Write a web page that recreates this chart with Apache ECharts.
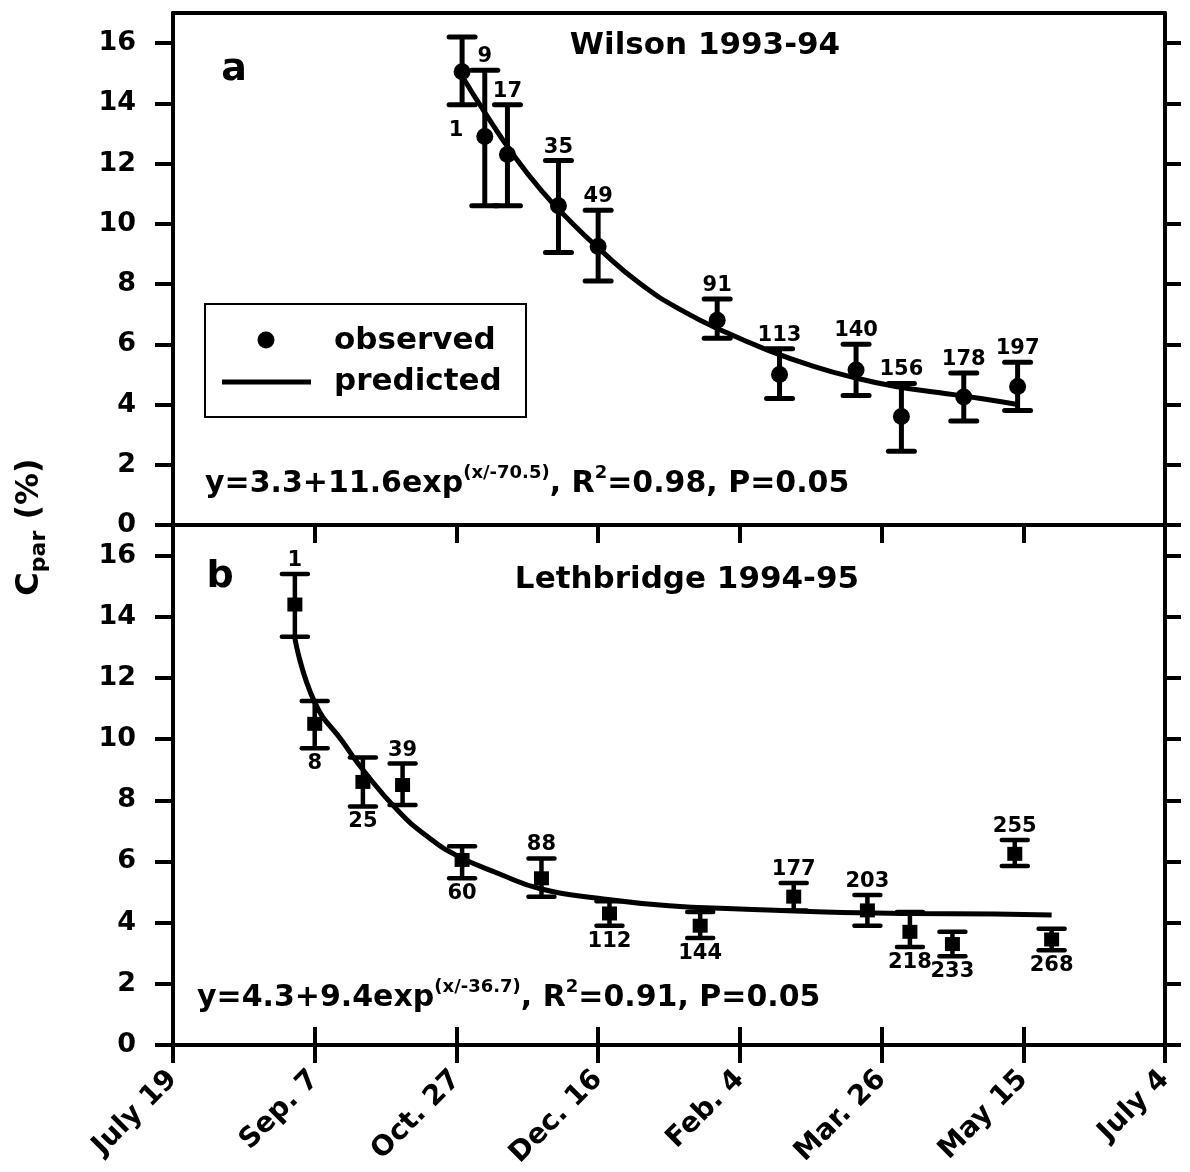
<!DOCTYPE html>
<html><head><meta charset="utf-8">
<script src="https://cdn.jsdelivr.net/npm/echarts@6/dist/echarts.min.js"></script>
<style>html,body{margin:0;padding:0;background:#fff}#c{width:1190px;height:1172px}</style>
</head><body><div id="c"></div>
<script>
// ---- data ----
const xTickLabels = ['July 19','Sep. 7','Oct. 27','Dec. 16','Feb. 4','Mar. 26','May 15','July 4'];
const yTicks = [0,2,4,6,8,10,12,14,16];

// Panel a: Wilson 1993-94 (x = days after July 19)
const wilsonDay   = [102,110,118,136,150,192,214,241,257,279,298];
const wilsonObs   = [15.05,12.9,12.3,10.6,9.25,6.8,5.0,5.15,3.6,4.25,4.6];
const wilsonHigh  = [16.2,15.1,13.95,12.1,10.45,7.5,5.85,6.0,4.7,5.05,5.4];
const wilsonLow   = [13.95,10.6,10.6,9.05,8.1,6.2,4.2,4.3,2.45,3.45,3.8];
const wilsonLabel = [1,9,17,35,49,91,113,140,156,178,197];
const wilsonPredDay = [102,110,120,130,140,150,165,180,195,210,225,240,255,270,285,298];
const wilsonPred    = [14.9,13.7,12.3,11.1,10.1,9.2,8.0,7.1,6.4,5.8,5.3,4.9,4.6,4.4,4.2,4.0];

// Panel b: Lethbridge 1994-95
const lethDay   = [43,50,67,81,102,130,154,186,219,245,260,275,297,310];
const lethObs   = [14.4,10.5,8.6,8.5,6.05,5.45,4.3,3.9,4.85,4.4,3.7,3.3,6.25,3.45];
const lethHigh  = [15.4,11.25,9.4,9.2,6.5,6.1,4.7,4.35,5.3,4.9,4.35,3.7,6.7,3.8];
const lethLow   = [13.35,9.7,7.8,7.85,5.45,4.85,3.9,3.5,4.4,3.9,3.2,2.9,5.85,3.1];
const lethLabel = [1,8,25,39,60,88,112,144,177,203,218,233,255,268];
const lethPredDay = [43,50,60,67,80,90,100,115,130,150,175,200,230,260,290,310];
const lethPred    = [13.3,11.2,9.9,9.0,7.6,6.8,6.2,5.6,5.1,4.8,4.55,4.45,4.35,4.3,4.28,4.25];

// ---- layout / style ----
const FONT = '"DejaVu Sans", sans-serif';
const wilsonSides = ['below','above','above','above','above','above','above','above','above','above','above'];
const wilsonNudge = {0: [-6, 10]};
const lethSides = ['above','below','below','above','below','above','below','below','above','above','below','below','above','below'];
const lethNudge = {};

function makeErr(sides, nudge, lw) {
  return function (params, api) {
    const i = params.dataIndex;
    const d = api.value(0);
    const pHi = api.coord([d, api.value(1)]);
    const pLo = api.coord([d, api.value(2)]);
    const cx = pHi[0];
    const cw = 13;
    const st = {stroke:'#000', lineWidth:lw, lineCap:'round'};
    const ch = [
      {type:'line', shape:{x1:cx,y1:pHi[1],x2:cx,y2:pLo[1]}, style:{stroke:'#000', lineWidth:lw}},
      {type:'line', shape:{x1:cx-cw,y1:pHi[1],x2:cx+cw,y2:pHi[1]}, style:st},
      {type:'line', shape:{x1:cx-cw,y1:pLo[1],x2:cx+cw,y2:pLo[1]}, style:st}
    ];
    const above = sides[i] === 'above';
    const n = nudge[i] || [0,0];
    ch.push({type:'text', x: cx + n[0], y: (above ? pHi[1] - 3 : pLo[1] + 5) + n[1],
      style:{text:String(api.value(3)), fontSize:21, fontWeight:'bold', fontFamily:FONT, fill:'#000',
             align:'center', verticalAlign: above ? 'bottom' : 'top'}});
    return {type:'group', children: ch};
  };
}

const chart = echarts.init(document.getElementById('c'), null, {renderer:'canvas'});
const axisLine = {show:true, onZero:false, lineStyle:{color:'#000', width:4}};
const lblStyle = {color:'#000', fontSize:27, fontWeight:'bold', fontFamily:FONT};
function xAx(grid, pos, tick, label) {
  return {type:'value', gridIndex:grid, position:pos, min:0, max:350, interval:50,
    axisLine: axisLine, splitLine:{show:false},
    axisTick: tick ? {show:true, inside: tick === 'in', length:18, lineStyle:{color:'#000', width:4}} : {show:false},
    axisLabel: label ? {show:true, rotate:45, margin:30, ...lblStyle, fontSize:28,
      formatter: v => xTickLabels[Math.round(v/50)]} : {show:false}};
}
function yAx(grid, pos, label) {
  return {type:'value', gridIndex:grid, position:pos, min:0, max:17,
    axisLine: axisLine, splitLine:{show:false},
    axisTick:{show:true, inside:false, length: pos==='left'?18:16, customValues: yTicks, lineStyle:{color:'#000', width:4}},
    axisLabel: label ? {show:true, margin:37, customValues: yTicks, ...lblStyle} : {show:false}};
}

const option = {
  animation:false,
  backgroundColor:'#fff',
  grid:[
    {left:173, right:25, top:13, height:512, outerBoundsMode:'none', containLabel:false},
    {left:173, right:25, top:525, height:520, outerBoundsMode:'none', containLabel:false}
  ],
  xAxis:[
    xAx(0,'bottom',null,false),
    xAx(0,'top',null,false),
    xAx(1,'bottom','in',false),
    xAx(1,'bottom','out',true),
    xAx(1,'top','in',false)
  ],
  yAxis:[
    yAx(0,'left',true), yAx(0,'right',false),
    yAx(1,'left',true), yAx(1,'right',false)
  ],
  series:[
    {type:'line', xAxisIndex:0, yAxisIndex:0, data: wilsonPredDay.map((d,i)=>[d, wilsonPred[i]]),
      smooth:true, showSymbol:false, lineStyle:{color:'#000', width:5}, z:2},
    {type:'custom', xAxisIndex:0, yAxisIndex:0, clip:false,
      data: wilsonDay.map((d,i)=>[d, wilsonHigh[i], wilsonLow[i], wilsonLabel[i]]),
      encode:{x:0, y:[1,2]}, renderItem: makeErr(wilsonSides, wilsonNudge, 5), z:3},
    {type:'scatter', xAxisIndex:0, yAxisIndex:0, data: wilsonDay.map((d,i)=>[d, wilsonObs[i]]),
      symbol:'circle', symbolSize:17, itemStyle:{color:'#000', opacity:1}, z:4},

    {type:'line', xAxisIndex:3, yAxisIndex:2, data: lethPredDay.map((d,i)=>[d, lethPred[i]]),
      smooth:true, showSymbol:false, lineStyle:{color:'#000', width:5}, z:2},
    {type:'custom', xAxisIndex:3, yAxisIndex:2, clip:false,
      data: lethDay.map((d,i)=>[d, lethHigh[i], lethLow[i], lethLabel[i]]),
      encode:{x:0, y:[1,2]}, renderItem: makeErr(lethSides, lethNudge, 4.5), z:3},
    {type:'scatter', xAxisIndex:3, yAxisIndex:2, data: lethDay.map((d,i)=>[d, lethObs[i]]),
      symbol:'rect', symbolSize:[15,14], itemStyle:{color:'#000', opacity:1}, z:4}
  ],
  graphic:[
    {type:'text', x:705, y:46, style:{text:'Wilson 1993-94', fontSize:31, fontWeight:'bold', fontFamily:FONT, fill:'#000', align:'center', verticalAlign:'middle'}},
    {type:'text', x:687, y:580, style:{text:'Lethbridge 1994-95', fontSize:31, fontWeight:'bold', fontFamily:FONT, fill:'#000', align:'center', verticalAlign:'middle'}},
    {type:'text', x:234, y:70, style:{text:'a', fontSize:38, fontWeight:'bold', fontFamily:FONT, fill:'#000', align:'center', verticalAlign:'middle'}},
    {type:'text', x:220, y:577, style:{text:'b', fontSize:38, fontWeight:'bold', fontFamily:FONT, fill:'#000', align:'center', verticalAlign:'middle'}},
    // legend
    {type:'rect', shape:{x:205, y:304, width:321, height:113}, style:{fill:'#fff', stroke:'#000', lineWidth:2}, z:10},
    {type:'circle', shape:{cx:266, cy:340, r:8.5}, style:{fill:'#000'}, z:11},
    {type:'line', shape:{x1:222, y1:382, x2:311, y2:382}, style:{stroke:'#000', lineWidth:5}, z:11},
    {type:'text', x:334, y:341, z:11, style:{text:'observed', fontSize:31, fontWeight:'bold', fontFamily:FONT, fill:'#000', align:'left', verticalAlign:'middle'}},
    {type:'text', x:334, y:382, z:11, style:{text:'predicted', fontSize:31, fontWeight:'bold', fontFamily:FONT, fill:'#000', align:'left', verticalAlign:'middle'}},
    // equations
    {type:'text', x:205, y:484, style:{text:'{m|y=3.3+11.6exp}{s|(x/-70.5)}{m|, R}{s|2}{m|=0.98, P=0.05}',
      align:'left', verticalAlign:'middle', fill:'#000',
      rich:{m:{fontSize:30, fontWeight:'bold', fontFamily:FONT, lineHeight:40, fill:'#000'},
            s:{fontSize:18, fontWeight:'bold', fontFamily:FONT, lineHeight:20, verticalAlign:'top', fill:'#000'}}}},
    {type:'text', x:197, y:998, style:{text:'{m|y=4.3+9.4exp}{s|(x/-36.7)}{m|, R}{s|2}{m|=0.91, P=0.05}',
      align:'left', verticalAlign:'middle', fill:'#000',
      rich:{m:{fontSize:30, fontWeight:'bold', fontFamily:FONT, lineHeight:40, fill:'#000'},
            s:{fontSize:18, fontWeight:'bold', fontFamily:FONT, lineHeight:20, verticalAlign:'top', fill:'#000'}}}},
    // y axis title
    {type:'text', x:30, y:527, rotation:Math.PI/2, style:{text:'{c|C}{p|par}{c| (%)}', align:'center', verticalAlign:'middle', fill:'#000',
      rich:{c:{fontSize:32, fontWeight:'bold', fontFamily:FONT, lineHeight:40, fill:'#000'},
            p:{fontSize:22, fontWeight:'bold', fontFamily:FONT, lineHeight:26, verticalAlign:'bottom', fill:'#000'}}}}
  ]
};
chart.setOption(option);
</script>
</body></html>
